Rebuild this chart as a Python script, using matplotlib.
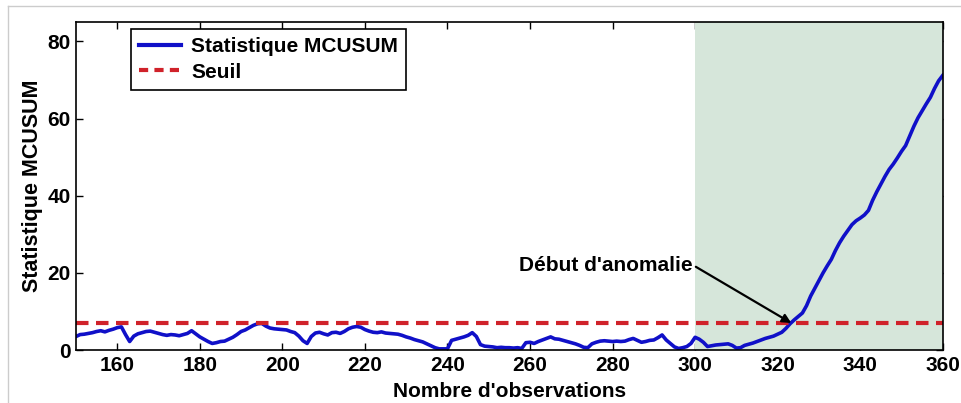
import numpy as np
import matplotlib
matplotlib.use("Agg")
import matplotlib.pyplot as plt
from matplotlib.lines import Line2D

# observations 150..360
obs = np.arange(150, 361)
mcusum = [
    3.5, 4.0, 4.1, 4.3, 4.5, 4.8, 5.0, 4.7, 5.1, 5.4,      # 150-159
    5.8, 6.0, 4.0, 2.2, 3.6, 4.2, 4.5, 4.8, 4.9, 4.6,      # 160-169
    4.3, 4.0, 3.8, 4.0, 3.9, 3.7, 4.0, 4.3, 5.0, 4.2,      # 170-179
    3.4, 2.8, 2.2, 1.7, 1.9, 2.2, 2.3, 2.8, 3.3, 4.0,      # 180-189
    4.8, 5.2, 5.8, 6.4, 6.8, 6.9, 6.2, 5.7, 5.5, 5.4,      # 190-199
    5.3, 5.2, 4.8, 4.5, 3.6, 2.4, 1.7, 3.5, 4.4, 4.6,      # 200-209
    4.2, 3.9, 4.5, 4.6, 4.3, 4.8, 5.5, 5.9, 6.1, 5.9,      # 210-219
    5.3, 4.9, 4.6, 4.5, 4.7, 4.4, 4.3, 4.2, 4.1, 3.8,      # 220-229
    3.4, 3.1, 2.7, 2.4, 2.1, 1.6, 1.1, 0.6, 0.3, 0.3,      # 230-239
    0.3, 2.5, 2.8, 3.1, 3.4, 3.8, 4.5, 3.5, 1.4, 1.0,      # 240-249
    0.9, 0.8, 0.6, 0.7, 0.6, 0.6, 0.5, 0.6, 0.4, 1.9,      # 250-259
    2.0, 1.7, 2.2, 2.6, 3.0, 3.4, 2.9, 2.8, 2.5, 2.2,      # 260-269
    1.9, 1.6, 1.2, 0.7, 0.6, 1.6, 2.0, 2.3, 2.4, 2.3,      # 270-279
    2.2, 2.3, 2.2, 2.3, 2.7, 3.0, 2.5, 2.0, 2.2, 2.5,      # 280-289
    2.6, 3.2, 3.9, 2.6, 1.7, 0.8, 0.4, 0.6, 0.9, 1.7,      # 290-299
    3.3, 2.8, 2.0, 0.9, 1.1, 1.3, 1.4, 1.5, 1.6, 1.2,      # 300-309
    0.5, 0.6, 1.2, 1.5, 1.8, 2.2, 2.6, 3.0, 3.3, 3.6,      # 310-319
    4.1, 4.6, 5.6, 6.8, 7.8, 8.7, 9.6, 11.5, 14.0, 16.0,   # 320-329
    18.0, 20.0, 21.8, 23.5, 25.8, 27.8, 29.5, 31.0, 32.5, 33.5,  # 330-339
    34.2, 35.0, 36.2, 38.8, 41.0, 43.0, 45.0, 46.8, 48.2, 49.8,  # 340-349
    51.5, 53.0, 55.5, 58.0, 60.2, 62.0, 63.8, 65.5, 67.8, 69.8,  # 350-359
    71.2,                                                  # 360
]
seuil = 7.0
anomaly_zone = (300, 360)
anomaly_start = 323.3

plt.rcParams['font.family'] = ['Liberation Sans', 'DejaVu Sans']
plt.rcParams['font.weight'] = 'bold'

fig = plt.figure(figsize=(9.62, 4.03), dpi=100)
ax = fig.add_axes([0.079, 0.1315, 0.901, 0.8135])

ax.axvspan(anomaly_zone[0], anomaly_zone[1], color='#d6e6da', zorder=2, lw=0)
ax.plot(obs, mcusum, color='#1010c8', lw=2.6, zorder=4)
ax.axhline(seuil, color='#d0222a', lw=3.0, dashes=(3.0, 1.8), zorder=5)

ax.annotate("Début d'anomalie", xy=(anomaly_start, seuil), xytext=(299.5, 22),
            ha='right', va='center', fontsize=15, fontweight='bold',
            arrowprops=dict(arrowstyle='-|>', color='black', lw=1.6,
                            mutation_scale=13, shrinkA=0, shrinkB=0,
                            relpos=(1.0, 0.5)),
            zorder=6)

ax.set_xlim(150, 360)
ax.set_ylim(0, 85)
ax.set_xticks(range(160, 361, 20))
ax.set_yticks(range(0, 81, 20))
ax.tick_params(direction='in', length=5, width=1, top=True, right=True,
               labelsize=15, pad=4)
for lab in ax.get_xticklabels() + ax.get_yticklabels():
    lab.set_fontweight('bold')
for sp in ax.spines.values():
    sp.set_linewidth(1.2)
    sp.set_zorder(7)

ax.set_xlabel("Nombre d'observations", fontsize=15, fontweight='bold', labelpad=5)
ax.set_ylabel("Statistique MCUSUM", fontsize=15.5, fontweight='bold', labelpad=3)

handles = [Line2D([], [], color='#1010c8', lw=3),
           Line2D([], [], color='#d0222a', lw=3, dashes=(2.2, 1.5))]
leg = ax.legend(handles, ['Statistique MCUSUM', 'Seuil'], loc='upper left',
                bbox_to_anchor=(0.063, 0.979), borderaxespad=0, fancybox=False,
                framealpha=1, edgecolor='black', handlelength=2.0,
                borderpad=0.4, labelspacing=0.3, handletextpad=0.5,
                prop={'weight': 'bold', 'size': 15})
leg.get_frame().set_linewidth(1.2)
leg.set_zorder(8)

# light frame around the figure
fig.add_artist(Line2D([8 / 962, 8 / 962], [0, 397 / 403], color='#cccccc', lw=1))
fig.add_artist(Line2D([8 / 962, 1], [397 / 403, 397 / 403], color='#cccccc', lw=1))

fig.savefig('out.png', dpi=100)
